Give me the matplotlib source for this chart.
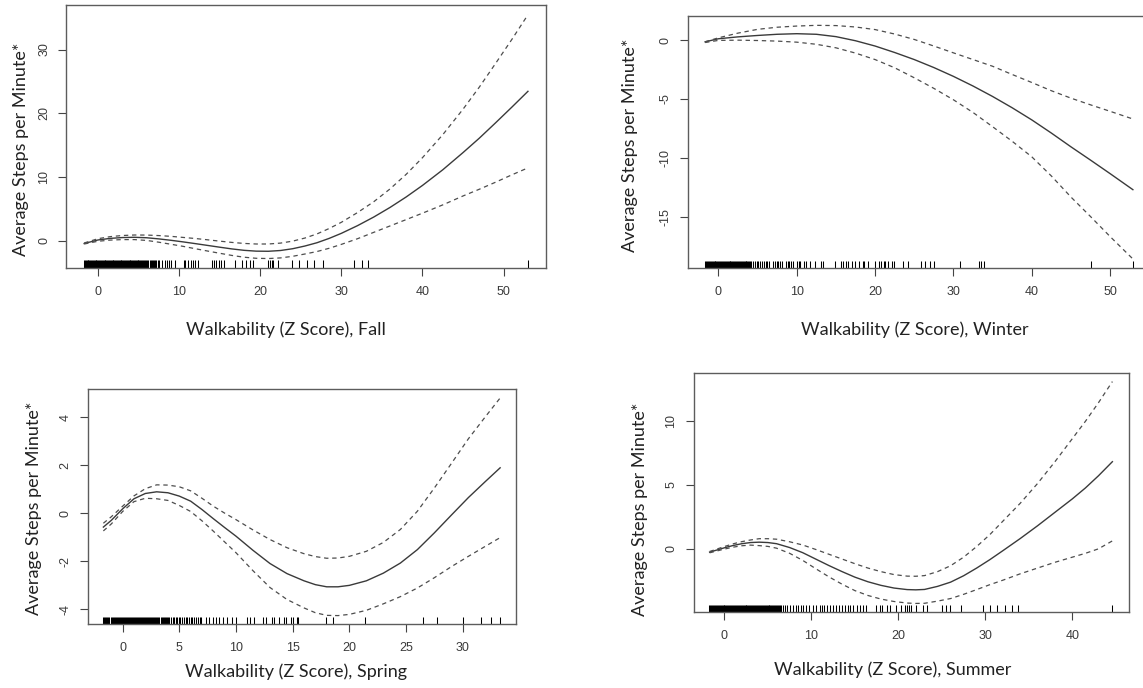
import matplotlib
matplotlib.use("Agg")
import matplotlib.pyplot as plt

W, H, DPI = 1143, 688, 100

# ---------------- Fall ----------------
fall_x = [-1.7, 0, 1.5, 3, 4.5, 6, 7.5, 9, 10.5, 12, 13.5, 15, 16.5, 18, 19.5, 21, 22.5, 24,
          25.5, 27, 28.5, 30, 32, 34, 36, 38, 40, 42.5, 45, 47, 49, 51, 53]
fall_fit = [-0.4, 0.15, 0.4, 0.53, 0.57, 0.5, 0.32, 0.1, -0.15, -0.42, -0.7, -0.98, -1.25, -1.47,
            -1.6, -1.62, -1.5, -1.22, -0.8, -0.28, 0.4, 1.19, 2.4, 3.75, 5.25, 6.9, 8.7, 11.15,
            13.85, 16.1, 18.5, 20.95, 23.45]
fall_upper = [-0.32, 0.35, 0.67, 0.85, 0.93, 0.92, 0.84, 0.72, 0.55, 0.38, 0.18, -0.03, -0.23,
              -0.39, -0.48, -0.48, -0.34, -0.03, 0.45, 1.1, 1.95, 2.92, 4.45, 6.15, 8.15, 10.45,
              13.05, 16.65, 20.65, 24.1, 27.8, 31.55, 35.45]
fall_lower = [-0.48, -0.05, 0.13, 0.21, 0.21, 0.08, -0.2, -0.52, -0.85, -1.22, -1.58, -1.93, -2.27,
              -2.55, -2.72, -2.76, -2.66, -2.41, -2.05, -1.66, -1.15, -0.54, 0.35, 1.35, 2.35,
              3.35, 4.35, 5.65, 7.05, 8.1, 9.2, 10.35, 11.45]
fall_rug = [-1.7, -1.61, -1.5, -1.39, -1.28, -1.17, -1.06, -0.95, -0.84, -0.73, -0.62, -0.51, -0.4,
            -0.29, -0.18, -0.07, 0.04, 0.15, 0.26, 0.37, 0.48, 0.59, 0.7, 0.81, 0.92, 1.03, 1.14,
            1.25, 1.36, 1.47, 1.58, 1.69, 1.8, 1.91, 2.02, 2.13, 2.24, 2.35, 2.46, 2.57, 2.68, 2.79,
            2.9, 3.01, 3.12, 3.23, 3.34, 3.45, 3.56, 3.67, 3.78, 3.89, 4.0, 4.11, 4.22, 4.33, 4.44,
            4.55, 4.66, 4.77, 4.88, 4.99, 5.1, 5.21, 5.32, 5.43, 5.56, 5.7, 5.82, 5.95, 6.1, 6.22,
            6.36, 6.5, 6.63, 6.78, 6.9, 7.05, 7.2, 7.35, 7.48,
            7.94, 8.24, 8.5, 8.81, 9.03, 9.47, 10.56, 10.78, 11.14, 11.44, 11.66, 12.0, 12.3,
            14.08, 14.3, 14.6, 14.95, 15.17, 15.52, 16.93, 17.8, 18.25, 18.7, 19.1, 20.97, 21.2,
            21.4, 21.6, 22.2, 23.86, 24.83, 25.8, 26.6, 27.7, 31.6, 32.5, 33.3, 53.0]
fall_xticks = [0, 10, 20, 30, 40, 50]
fall_yticks = [0, 10, 20, 30]

# ---------------- Winter ----------------
winter_x = [-1.7, 0, 2.5, 5, 7.5, 10, 12.5, 15, 17.5, 20, 22.5, 25, 27.5, 30, 32.5, 35, 37.5,
            40, 42.5, 45, 47.5, 50, 52.9]
winter_fit = [-0.14, 0.12, 0.28, 0.40, 0.5, 0.55, 0.5, 0.3, -0.05, -0.5, -1.05, -1.65, -2.33,
              -3.08, -3.9, -4.79, -5.75, -6.78, -7.9, -9.07, -10.2, -11.35, -12.71]
winter_upper = [-0.14, 0.2, 0.6, 0.92, 1.1, 1.2, 1.26, 1.24, 1.12, 0.9, 0.52, 0.06, -0.5, -1.08,
                -1.65, -2.22, -2.92, -3.6, -4.3, -4.93, -5.5, -6.05, -6.7]
winter_lower = [-0.2, -0.02, 0.0, -0.03, -0.08, -0.17, -0.35, -0.65, -1.1, -1.65, -2.35, -3.2,
                -4.1, -5.07, -6.15, -7.36, -8.6, -9.92, -11.55, -13.34, -15.0, -16.7, -18.6]
winter_rug = [-1.7, -1.58, -1.46, -1.34, -1.22, -1.1, -0.98, -0.86, -0.74, -0.62, -0.5, -0.38,
              -0.26, -0.14, -0.02, 0.1, 0.22, 0.34, 0.46, 0.58, 0.7, 0.82, 0.94, 1.06, 1.18, 1.3,
              1.42, 1.54, 1.66, 1.78, 1.9, 2.02, 2.14, 2.26, 2.38, 2.5, 2.62, 2.74, 2.86, 2.98,
              3.1, 3.22, 3.34, 3.46, 3.58, 3.7, 3.82, 3.94, 4.06, 4.16,
              4.39, 4.63, 4.86, 5.1, 5.33, 5.56, 5.8, 6.03, 6.26, 6.5, 6.96, 7.2, 7.43, 7.66, 7.9,
              8.13, 8.6, 8.83, 9.06, 9.3, 9.53, 10.0, 10.23, 10.46, 10.93, 11.16, 11.63, 12.33,
              13.03, 13.4, 14.9, 15.6, 15.84, 16.3, 16.54, 17.0, 17.47, 17.94, 18.41, 18.64, 19.1,
              20.04, 20.5, 20.74, 21.1, 21.3, 21.68, 22.15, 22.47, 23.55, 24.25, 25.89, 26.35,
              27.05, 27.5, 30.8, 33.26, 33.45, 33.96, 47.5, 52.9]
winter_xticks = [0, 10, 20, 30, 40, 50]
winter_yticks = [0, -5, -10, -15]

# ---------------- Spring ----------------
spring_x = [-1.7, -1, 0, 1, 2, 3, 4, 5, 6, 7, 8, 9, 10, 11.5, 13, 14.5, 16, 17, 18, 19, 20,
            21.5, 23, 24.5, 26, 27.5, 29, 30.5, 32, 33.3]
spring_fit = [-0.58, -0.3, 0.18, 0.6, 0.82, 0.89, 0.85, 0.71, 0.5, 0.15, -0.23, -0.6, -0.96,
              -1.55, -2.1, -2.52, -2.82, -2.98, -3.07, -3.07, -3.01, -2.82, -2.5, -2.08, -1.52,
              -0.82, -0.08, 0.65, 1.32, 1.89]
spring_upper = [-0.42, -0.15, 0.29, 0.72, 1.02, 1.18, 1.17, 1.1, 0.93, 0.62, 0.29, 0.0, -0.27,
                -0.7, -1.1, -1.44, -1.69, -1.81, -1.88, -1.87, -1.8, -1.59, -1.22, -0.68, 0.08,
                1.05, 2.07, 3.1, 4.02, 4.8]
spring_lower = [-0.74, -0.45, 0.07, 0.48, 0.62, 0.6, 0.53, 0.32, 0.07, -0.32, -0.75, -1.2, -1.65,
                -2.4, -3.1, -3.6, -3.95, -4.15, -4.26, -4.27, -4.22, -4.05, -3.78, -3.48, -3.12,
                -2.69, -2.23, -1.8, -1.38, -1.02]
spring_rug = [-1.7, -1.61, -1.52, -1.43, -1.34, -1.25, -1.16, -1.07, -0.98, -0.89, -0.8, -0.71,
              -0.62, -0.53, -0.44, -0.35, -0.26, -0.17, -0.08, 0.01, 0.1, 0.19, 0.28, 0.37, 0.46,
              0.55, 0.64, 0.73, 0.82, 0.91, 1.0, 1.09, 1.18, 1.27, 1.36, 1.45, 1.54, 1.63, 1.72,
              1.81, 1.9, 1.99, 2.08, 2.17, 2.26, 2.35, 2.44, 2.53, 2.62, 2.71, 2.8, 2.89, 2.98,
              3.07, 3.16, 3.25, 3.34, 3.43, 3.52, 3.61, 3.7, 3.79, 3.88, 3.97,
              4.1, 4.25, 4.4, 4.52, 4.68, 4.8, 4.95, 5.1, 5.22, 5.4, 5.55, 5.7, 5.85, 6.0, 6.15,
              6.3, 6.45, 6.62, 6.8, 6.95,
              7.31, 7.63, 7.94, 8.26, 8.48, 8.89, 9.2, 9.61, 9.99, 10.93, 11.25, 11.56, 12.35,
              12.67, 13.14, 13.39, 13.77, 14.24, 14.4, 14.87, 15.03, 15.35, 15.5, 17.96, 18.56,
              21.4, 26.54, 27.7, 30.0, 31.58, 32.5, 33.3]
spring_xticks = [0, 5, 10, 15, 20, 25, 30]
spring_yticks = [-4, -2, 0, 2, 4]

# ---------------- Summer ----------------
summer_x = [-1.7, 0, 1, 2, 3, 4, 5, 6, 7.5, 9, 10.5, 12, 13.5, 15, 16.5, 18, 19.5, 21, 22, 23,
            24.5, 26, 27.5, 29, 30.5, 32, 34, 36, 38, 40, 41.5, 43, 44.6]
summer_fit = [-0.26, 0.08, 0.26, 0.4, 0.49, 0.52, 0.49, 0.4, 0.1, -0.3, -0.8, -1.3, -1.77, -2.21,
              -2.57, -2.85, -3.06, -3.18, -3.2, -3.17, -2.93, -2.6, -2.1, -1.5, -0.85, -0.15, 0.8,
              1.8, 2.85, 3.9, 4.75, 5.7, 6.8]
summer_upper = [-0.21, 0.18, 0.39, 0.56, 0.69, 0.79, 0.79, 0.75, 0.55, 0.3, -0.05, -0.42, -0.79,
                -1.16, -1.5, -1.78, -2.01, -2.13, -2.14, -2.09, -1.78, -1.32, -0.65, 0.18, 1.1,
                2.15, 3.55, 5.1, 6.8, 8.6, 9.95, 11.4, 13.05]
summer_lower = [-0.31, -0.02, 0.13, 0.24, 0.29, 0.25, 0.19, 0.05, -0.35, -0.9, -1.55, -2.18,
                -2.75, -3.26, -3.64, -3.92, -4.11, -4.23, -4.26, -4.25, -4.08, -3.88, -3.55,
                -3.18, -2.8, -2.45, -1.95, -1.5, -1.05, -0.65, -0.35, 0.0, 0.62]
summer_rug = [-1.75, -1.64, -1.53, -1.42, -1.31, -1.2, -1.09, -0.98, -0.87, -0.76, -0.65, -0.54,
              -0.43, -0.32, -0.21, -0.1, 0.01, 0.12, 0.23, 0.34, 0.45, 0.56, 0.67, 0.78, 0.89, 1.0,
              1.11, 1.22, 1.33, 1.44, 1.55, 1.66, 1.77, 1.88, 1.99, 2.1, 2.21, 2.32, 2.43, 2.54,
              2.65, 2.76, 2.87, 2.98, 3.09, 3.2, 3.31, 3.42, 3.53, 3.64, 3.75, 3.86, 3.97, 4.08,
              4.19, 4.3, 4.41, 4.52, 4.63, 4.74, 4.85, 4.96, 5.07, 5.18, 5.29, 5.4, 5.51, 5.62,
              5.73, 5.84, 5.95, 6.06, 6.17, 6.28, 6.39, 6.5,
              6.74, 6.95, 7.25, 7.59, 7.93, 8.23, 8.44, 8.78, 9.08, 9.37, 9.71, 10.14, 10.56,
              10.99, 11.2, 11.5, 11.84, 12.18, 12.48, 12.78, 13.12, 13.54, 13.88, 14.18, 14.48,
              14.82, 15.25, 15.59, 15.88, 16.31, 17.37, 17.88, 18.14, 18.65, 19.07, 19.71, 20.35,
              20.77, 20.99, 21.2, 21.41, 22.05, 22.82, 23.33, 25.03, 25.46, 25.88, 27.24, 29.71,
              30.56, 31.32, 32.26, 33.11, 33.75, 44.6]
summer_xticks = [0, 10, 20, 30, 40]
summer_yticks = [0, 5, 10]

YLABEL = "Average Steps per Minute*"
XLABELS = ["Walkability (Z Score), Fall", "Walkability (Z Score), Winter",
           "Walkability (Z Score), Spring", "Walkability (Z Score), Summer"]

TICK_FONT = "Liberation Sans"
LABEL_FONT = "Lato"

fig = plt.figure(figsize=(W / DPI, H / DPI), dpi=DPI)
fig.patch.set_facecolor("white")


def px_box(left, top, right, bottom):
    return [left / W, 1 - bottom / H, (right - left) / W, (bottom - top) / H]


def r_range(lo, hi):
    pad = 0.04 * (hi - lo)
    return lo - pad, hi + pad


def panel(box, x, fit, upper, lower, rug, xticks, yticks, xlabel, ylab_xy, xlab_xy):
    ax = fig.add_axes(px_box(*box))
    ax.set_xlim(*r_range(min(x), max(x)))
    ax.set_ylim(*r_range(min(lower), max(upper)))

    ax.plot(x, fit, color="#3a3a3a", lw=1.0, solid_joinstyle="round")
    for band in (upper, lower):
        ax.plot(x, band, color="#4d4d4d", lw=0.9, linestyle=(0, (3.5, 3.0)))

    ax.vlines(rug, 0, 0.03, transform=ax.get_xaxis_transform(), color="black", lw=0.75)

    ax.set_xticks(xticks)
    ax.set_yticks(yticks)
    ax.set_xticklabels([str(t) for t in xticks])
    ax.set_yticklabels([str(t) for t in yticks])
    ax.tick_params(direction="out", length=5.5, width=0.8, color="#444444",
                   labelsize=9, labelcolor="#3a3a3a")
    ax.tick_params(axis="x", pad=11.5)
    ax.tick_params(axis="y", pad=10.5)
    for lab in ax.get_xticklabels():
        lab.set_fontfamily(TICK_FONT)
        lab.set_va("center")
    for lab in ax.get_yticklabels():
        lab.set_fontfamily(TICK_FONT)
        lab.set_rotation(90)
        lab.set_ha("center")
        lab.set_va("center")
    for sp in ax.spines.values():
        sp.set_color("#5c5c5c")
        sp.set_linewidth(1.0)

    fig.text(ylab_xy[0] / W, 1 - ylab_xy[1] / H, YLABEL, rotation=90, ha="center",
             va="center", fontsize=13, family=LABEL_FONT, color="#222222")
    fig.text(xlab_xy[0] / W, 1 - xlab_xy[1] / H, xlabel, ha="center", va="center",
             fontsize=13, family=LABEL_FONT, color="#222222")
    return ax


panel((66.4, 5, 545.7, 268.3), fall_x, fall_fit, fall_upper, fall_lower, fall_rug,
      fall_xticks, fall_yticks, XLABELS[0], (21, 149.5), (286, 330))
panel((688, 16, 1150, 268.3), winter_x, winter_fit, winter_upper, winter_lower, winter_rug,
      winter_xticks, winter_yticks, XLABELS[1], (630, 145), (915, 330))
panel((87.5, 389.3, 516, 624.3), spring_x, spring_fit, spring_upper, spring_lower, spring_rug,
      spring_xticks, spring_yticks, XLABELS[2], (34, 508), (296, 672))
panel((693.5, 372.7, 1128.5, 612.3), summer_x, summer_fit, summer_upper, summer_lower, summer_rug,
      summer_xticks, summer_yticks, XLABELS[3], (640, 509), (893, 670))

fig.savefig("out.png", dpi=DPI, facecolor="white")
